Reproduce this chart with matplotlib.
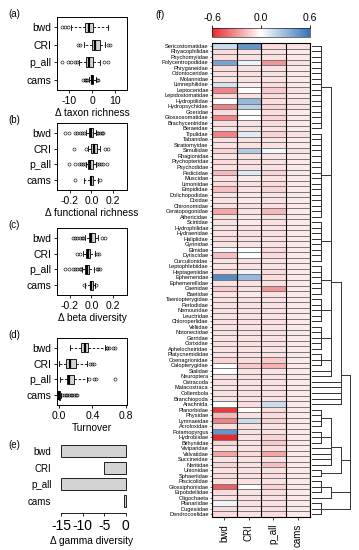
import numpy as np
import matplotlib
matplotlib.use("Agg")
import matplotlib.pyplot as plt
from matplotlib.colors import LinearSegmentedColormap, Normalize
from matplotlib.cm import ScalarMappable

plt.rcParams['font.family'] = ['Liberation Sans', 'DejaVu Sans']

groups = ["bwd", "CRI", "p_all", "cams"]

# box stats per group: (whisker low, q1, median, q3, whisker high) + outliers
taxon_stats = [(-9.0, -3.0, -1.5, 0.5, 7.0), (-3.5, 0.0, 1.4, 3.6, 5.7),
               (-5.6, -2.7, -1.1, 0.5, 3.6), (-1.5, -0.3, 0.0, 0.3, 1.5)]
taxon_out = [[-13, -11.5, -10.3], [-5.8, -5.0, 6.7, 7.5],
             [-13, -10.3, -8.9, -7.4, -6.4, 5.1, 6.9], [-4, -3, -2.5, -2, 2, 2.5]]

func_stats = [(-0.05, -0.02, 0.0, 0.01, 0.04), (-0.03, 0.0, 0.02, 0.05, 0.08),
              (-0.05, -0.03, -0.01, 0.01, 0.04), (-0.07, -0.01, 0.0, 0.01, 0.06)]
func_out = [[-0.25, -0.21, -0.15, -0.13, -0.11, -0.09, -0.07, 0.05, 0.06, 0.08, 0.10, 0.11],
            [-0.16, -0.05, 0.13, 0.15],
            [-0.21, -0.15, -0.12, -0.10, -0.08, -0.06, 0.05, 0.07, 0.09, 0.11, 0.14],
            [-0.15, 0.08]]

beta_stats = [(-0.06, -0.02, 0.0, 0.03, 0.06), (-0.08, -0.05, -0.03, -0.01, 0.03),
              (-0.09, -0.06, -0.04, -0.02, 0.02), (-0.06, -0.01, 0.0, 0.01, 0.03)]
beta_out = [[-0.17, -0.15, -0.13, -0.11, -0.09, -0.08, 0.10, 0.13],
            [-0.13, -0.11, 0.05, 0.07],
            [-0.25, -0.21, -0.17, -0.15, -0.13, -0.11, -0.10, 0.05, 0.06, 0.08],
            [-0.07, 0.04]]

turn_stats = [(0.13, 0.26, 0.31, 0.35, 0.55), (0.0, 0.08, 0.13, 0.20, 0.33),
              (0.01, 0.09, 0.12, 0.18, 0.33), (0.0, 0.0, 0.0, 0.01, 0.02)]
turn_out = [[0.57, 0.58, 0.60, 0.65, 0.67], [0.37, 0.40, 0.42],
            [0.36, 0.42, 0.44, 0.67],
            [0.04, 0.06, 0.08, 0.10, 0.12, 0.14, 0.16, 0.18, 0.20, 0.22]]

gamma_delta = [-15, -5, -15, -0.3]

taxa = ["Sericostomatidae", "Rhyacophilidae", "Psychomyiidae", "Polycentropodidae",
        "Phryganeidae", "Odontoceridae", "Molannidae", "Limnephilidae", "Leptoceridae",
        "Lepidostomatidae", "Hydroptilidae", "Hydropsychidae", "Goeridae",
        "Glossosomatidae", "Brachycentridae", "Beraeidae", "Tipulidae", "Tabanidae",
        "Stratiomyidae", "Simuliidae", "Rhagionidae", "Ptychopteridae", "Psychodidae",
        "Pediciidae", "Muscidae", "Limoniidae", "Empididae", "Dolichopodidae", "Dixidae",
        "Chironomidae", "Ceratopogonidae", "Athericidae", "Scirtidae", "Hydrophilidae",
        "Hydraenidae", "Haliplidae", "Gyrinidae", "Elmidae", "Dytiscidae",
        "Curculionidae", "Leptophlebiidae", "Heptageniidae", "Ephemeridae",
        "Ephemerellidae", "Caenidae", "Baetidae", "Taeniopterygidae", "Perlodidae",
        "Nemouridae", "Leuctridae", "Chloroperlidae", "Veliidae", "Notonectidae",
        "Gerridae", "Corixidae", "Aphelocheiridae", "Platycnemididae", "Coenagrionidae",
        "Calopterygidae", "Sialidae", "Neuroptera", "Ostracoda", "Malacostraca",
        "Collembola", "Branchiopoda", "Arachnida", "Planorbidae", "Physidae",
        "Lymnaeidae", "Acroloxidae", "Potamopyrgus", "Hydrobiidae", "Bithyniidae",
        "Viviparidae", "Valvatidae", "Succineidae", "Neritidae", "Unionidae",
        "Sphaeriidae", "Piscicolidae", "Glossiphoniidae", "Erpobdellidae", "Oligochaeta",
        "Planariidae", "Dugesiidae", "Dendrocoelidae"]

heat_bwd = [0.15, -0.1, -0.1, 0.4, -0.1, -0.08, -0.08, 0.12, -0.35, -0.1,
            0.0, -0.35, -0.1, -0.35, -0.1, -0.08, -0.35, -0.08, -0.08, -0.12,
            -0.08, -0.1, -0.08, -0.2, -0.08, -0.1, -0.18, -0.08, -0.08, -0.08,
            -0.25, -0.08, -0.08, -0.08, -0.08, -0.1, -0.08, 0.03, -0.18, -0.08,
            -0.08, -0.1, 0.5, -0.08, -0.15, -0.08, -0.08, -0.08, -0.08, -0.08,
            -0.08, -0.08, -0.08, -0.08, -0.08, -0.08, -0.08, -0.12, 0.0, 0.0,
            -0.08, -0.08, -0.08, -0.08, -0.08, 0.0, -0.55, -0.2, -0.35, -0.1,
            0.45, -0.6, -0.12, -0.08, -0.25, -0.08, -0.12, -0.08, -0.1, -0.08,
            -0.45, -0.1, -0.08, 0.05, -0.1, -0.1]
heat_cri = [0.45, -0.08, -0.08, 0.05, -0.08, -0.08, -0.08, -0.05, 0.0, -0.08,
            0.3, 0.2, 0.0, 0.0, -0.08, -0.08, 0.08, -0.08, -0.08, 0.22,
            -0.08, -0.08, -0.08, 0.1, -0.06, -0.08, -0.08, -0.06, -0.06, -0.08,
            -0.08, -0.06, -0.06, -0.08, -0.08, -0.08, -0.08, 0.0, 0.0, -0.08,
            -0.08, 0.05, 0.3, -0.08, -0.08, -0.06, -0.08, -0.08, -0.08, -0.08,
            -0.08, -0.08, -0.08, -0.08, -0.08, -0.08, -0.08, -0.1, -0.15, -0.08,
            -0.08, -0.08, -0.08, -0.08, -0.08, -0.1, 0.0, -0.08, 0.15, -0.08,
            -0.08, -0.08, -0.08, -0.08, -0.1, -0.08, -0.08, -0.08, -0.08, -0.08,
            0.0, -0.08, -0.08, -0.08, -0.08, -0.08]
heat_pall = [-0.1, -0.08, -0.08, -0.3, -0.08, -0.08, -0.08, -0.1, -0.15, -0.1,
             -0.1, -0.12, -0.1, -0.12, -0.1, -0.08, -0.12, -0.08, -0.08, 0.03,
             -0.08, -0.08, -0.08, -0.12, -0.08, -0.1, -0.12, -0.08, -0.08, -0.08,
             -0.2, -0.08, -0.08, -0.08, -0.08, -0.08, -0.08, -0.1, -0.1, -0.08,
             -0.08, -0.1, -0.1, -0.08, -0.3, -0.08, -0.08, -0.08, -0.08, -0.08,
             -0.08, -0.08, -0.08, -0.08, -0.08, -0.08, -0.08, -0.15, -0.22, -0.08,
             -0.08, -0.08, -0.08, -0.08, -0.08, 0.15, -0.1, -0.1, -0.12, -0.08,
             -0.08, -0.12, -0.15, -0.1, -0.25, -0.08, -0.18, -0.08, -0.1, -0.08,
             -0.12, -0.1, -0.08, -0.08, -0.1, -0.1]
heat_cams = [-0.08, -0.06, -0.06, -0.08, -0.06, -0.06, -0.06, -0.06, -0.08, -0.06,
             -0.08, -0.08, -0.06, -0.06, -0.06, -0.06, -0.08, -0.06, -0.06, -0.08,
             -0.06, -0.06, -0.06, -0.06, -0.06, -0.06, -0.06, -0.06, -0.06, -0.06,
             -0.06, -0.06, -0.06, -0.06, -0.06, -0.06, -0.06, -0.06, -0.06, -0.06,
             -0.06, -0.06, -0.06, -0.06, -0.06, -0.06, -0.06, -0.06, -0.06, -0.06,
             -0.06, -0.06, -0.06, -0.06, -0.06, -0.06, -0.06, -0.06, -0.06, -0.06,
             -0.06, -0.06, -0.06, -0.06, -0.06, -0.06, -0.06, -0.06, -0.06, -0.06,
             -0.06, -0.06, -0.06, -0.06, -0.06, -0.06, -0.06, -0.06, -0.06, -0.06,
             -0.06, -0.06, -0.06, -0.06, -0.06, -0.06]

# taxonomic tree: (level, children); ints are row indices
insecta = (2, [(1, list(range(0, 16))), (1, list(range(16, 32))), (1, list(range(32, 40))),
               (1, list(range(40, 46))), (1, list(range(46, 51))), (1, list(range(51, 56))),
               (1, list(range(56, 59))), 59, 60])
arthropoda = (3, [insecta, 61, 62, 63, 64, 65])
mollusca = (3, [(2, [(1, [66, 67, 68, 69]), (1, [70, 71, 72]), 73, 74, 75, 76]),
                (1, [77, 78])])
annelida = (2, [(1, [79, 80, 81]), 82])
platyhelminthes = (1, [83, 84, 85])
tree = (4, [arthropoda, mollusca, annelida, platyhelminthes])

W, H = 359, 550
fig = plt.figure(figsize=(W / 100, H / 100), dpi=100)


def px_axes(x0, y0, x1, y1):
    return fig.add_axes([x0 / W, 1 - y1 / H, (x1 - x0) / W, (y1 - y0) / H])


def box_panel(rect, stats, outs, xlim, xticks, xticklabels, xlabel, tag):
    ax = px_axes(*rect)
    bstats = []
    for (lo, q1, med, q3, hi), fl in zip(stats, outs):
        bstats.append(dict(whislo=lo, q1=q1, med=med, q3=q3, whishi=hi, fliers=fl))
    ax.bxp(bstats, positions=[4, 3, 2, 1], widths=0.55, orientation='horizontal',
           patch_artist=True, capwidths=0.28,
           boxprops=dict(facecolor='#d3d3d3', edgecolor='k', linewidth=0.6),
           medianprops=dict(color='k', linewidth=1.6),
           whiskerprops=dict(color='k', linewidth=0.6, linestyle=(0, (3, 2))),
           capprops=dict(color='k', linewidth=0.6),
           flierprops=dict(marker='o', markersize=2.2, markerfacecolor='none',
                           markeredgecolor='k', markeredgewidth=0.4))
    ax.set_xlim(*xlim)
    ax.set_ylim(0.4, 4.6)
    ax.set_yticks([4, 3, 2, 1])
    ax.set_yticklabels(groups, fontsize=7.5)
    ax.set_xticks(xticks)
    ax.set_xticklabels(xticklabels, fontsize=7.5)
    ax.tick_params(length=2.5, width=0.6, pad=1.5)
    for s in ax.spines.values():
        s.set_linewidth(0.7)
    ax.set_xlabel(xlabel, fontsize=7.3, labelpad=2)
    fig.text(8 / W, 1 - (rect[1] - 3) / H, tag, fontsize=7, va='center')
    return ax


box_panel((57, 17, 127, 90), taxon_stats, taxon_out, (-15, 15), [-10, 0, 10],
          ["-10", "0", "10"], "\u0394 taxon richness", "(a)")
box_panel((57, 123, 127, 190), func_stats, func_out, (-0.32, 0.33), [-0.2, 0, 0.2],
          ["-0.2", "0.0", "0.2"], "\u0394 functional richness", "(b)")
box_panel((57, 228, 127, 295), beta_stats, beta_out, (-0.32, 0.33), [-0.2, 0, 0.2],
          ["-0.2", "0.0", "0.2"], "\u0394 beta diversity", "(c)")
box_panel((57, 338, 127, 405), turn_stats, turn_out, (-0.025, 0.815), [0, 0.4, 0.8],
          ["0.0", "0.4", "0.8"], "Turnover", "(d)")

# (e) gamma diversity bars
axe = px_axes(57, 443, 127, 509)
axe.barh([4, 3, 2, 1], gamma_delta, height=0.72, color='#d3d3d3', edgecolor='k',
         linewidth=0.6)
axe.set_xlim(-16, 0.3)
axe.set_ylim(0.5, 4.5)
axe.set_yticks([4, 3, 2, 1])
axe.set_yticklabels(groups, fontsize=7)
axe.tick_params(axis='y', length=0, pad=4)
axe.set_xticks([-15, -10, -5, 0])
axe.set_xticklabels(["-15", "-10", "-5", "0"], fontsize=6.8)
axe.tick_params(axis='x', length=2.5, width=0.6, pad=1.5)
for side in ['top', 'right', 'left']:
    axe.spines[side].set_visible(False)
axe.spines['bottom'].set_position(('outward', 3))
axe.spines['bottom'].set_bounds(-15, 0)
axe.spines['bottom'].set_linewidth(0.6)
axe.set_xlabel("\u0394 gamma diversity", fontsize=7.3, labelpad=2)
fig.text(8 / W, 1 - 445 / H, "(e)", fontsize=7, va='center')

# (f) heatmap
cmap = LinearSegmentedColormap.from_list("rwb", ["#E52A2E", "#FFFFFF", "#3474BA"])
norm = Normalize(-0.6, 0.6)
vals = np.column_stack([heat_bwd, heat_cri, heat_pall, heat_cams])
nrow = len(taxa)

axh = px_axes(212, 43, 310, 517)
axh.pcolormesh(np.arange(5), np.arange(nrow + 1), vals, cmap=cmap, norm=norm,
               edgecolors='#7a7a7a', linewidth=0.6)
for xv in range(5):
    axh.axvline(xv, color='k', linewidth=0.8)
axh.set_xlim(0, 4)
axh.set_ylim(nrow, 0)
axh.set_yticks(np.arange(nrow) + 0.5)
axh.set_yticklabels(taxa, fontsize=4.1)
axh.set_xticks(np.arange(4) + 0.5)
axh.set_xticklabels(groups, rotation=90, fontsize=7)
axh.tick_params(axis='y', length=1.5, width=0.4, pad=1)
axh.tick_params(axis='x', length=2, width=0.5, pad=3)
for s in axh.spines.values():
    s.set_linewidth(0.8)

# dendrogram
axd = px_axes(310, 43, 352, 517)
axd.set_xlim(-0.2, 4.2)
axd.set_ylim(nrow, 0)
axd.axis('off')


def draw(node):
    if isinstance(node, int):
        return node + 0.5, 0
    level, children = node
    pos = [draw(c) for c in children]
    for y, lv in pos:
        axd.plot([lv, level], [y, y], color='#333333', linewidth=0.7)
    ys = [p[0] for p in pos]
    axd.plot([level, level], [min(ys), max(ys)], color='#333333', linewidth=0.7)
    return float(np.mean(ys)), level


draw(tree)

# colorbar
axc = px_axes(212, 28, 310, 37)
cb = fig.colorbar(ScalarMappable(norm=norm, cmap=cmap), cax=axc, orientation='horizontal',
                  ticks=[-0.6, 0.0, 0.6])
cb.ax.xaxis.set_ticks_position('top')
cb.ax.set_xticklabels(["-0.6", "0.0", "0.6"], fontsize=7.5)
cb.ax.tick_params(length=2.5, width=0.6, pad=1)
cb.outline.set_linewidth(0.4)
fig.text(155 / W, 1 - 15 / H, "(f)", fontsize=7, va='center')

fig.savefig("out.png", dpi=100)
